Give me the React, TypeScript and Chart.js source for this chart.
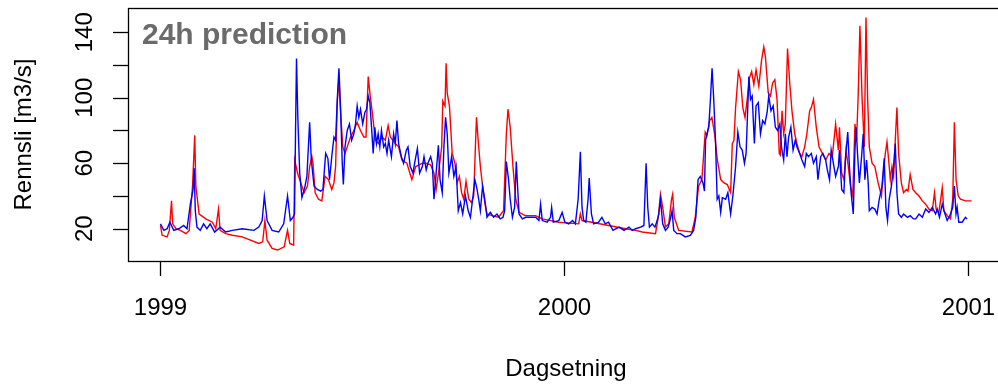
import React, { useEffect, useRef } from "react";
import { Chart, registerables } from "chart.js";

Chart.register(...registerables);

// Days counted from 1999-01-01, discharge in m3/s
const observed: [number, number][] = [
  [0, 22], [1.5, 16], [6, 15], [8, 19], [10, 37], [11, 23], [14, 20], [18, 19], [23, 17], [26, 19],
  [29, 46], [31, 77], [32, 46], [35, 29], [41, 26], [47, 24], [50, 20], [52.5, 32], [54, 19], [59, 17],
  [65, 16], [74, 15], [89, 11], [92.5, 12], [94.5, 25], [96.5, 13], [101, 8], [106, 7], [112, 9], [114, 16],
  [115, 19], [117, 11], [120.5, 10], [121.5, 62], [124, 54], [127, 48], [130, 42], [133, 46], [135, 58], [137, 64],
  [138, 60], [140, 42], [143, 38], [146, 37], [149, 52], [152, 50], [155, 44], [157, 48], [158.5, 58],
  [160, 97], [161.5, 112], [163, 91], [165, 70], [167, 66], [169, 70], [172, 76], [175, 80], [178, 85], [181, 80],
  [184, 76], [186, 76], [188, 113], [189.5, 103], [191.5, 92], [194.5, 74], [197.5, 72], [200.5, 76], [203.5, 74],
  [206, 83], [208, 76], [212.5, 72], [215.5, 70], [218.5, 62], [223, 60], [227.5, 50], [231, 58], [237, 60],
  [240, 60], [244.5, 59],
  [247.5, 54], [249.5, 44], [252, 56], [254.5, 70], [255.5, 98], [257.5, 95], [258.5, 121], [259.5, 103], [261.5, 95],
  [264, 66], [266.5, 60], [268.5, 48], [270.5, 52], [272.5, 42], [274.5, 38], [276.5, 49], [279, 38], [281.5, 36],
  [283.5, 40], [285, 70], [286, 88], [287.5, 74], [289.5, 58], [291.5, 46], [293.5, 36], [295.5, 29], [300, 28],
  [306, 27], [310.5, 31], [313, 78], [314.5, 93], [316.5, 82], [319, 58], [321.5, 38], [324.5, 30], [330, 28], [339.5, 28],
  [345.5, 26], [360.5, 24], [378.5, 23], [380, 29], [381.5, 25], [390.5, 24], [405.5, 22], [421, 20], [430, 19],
  [436, 18], [448, 17], [450.5, 27], [452.5, 41], [454.5, 33], [457, 21], [460, 23], [462.5, 38], [463.5, 41],
  [465, 27], [469, 19], [481, 18], [484, 27], [487, 46], [490, 50], [493, 79], [494.5, 77], [497, 86], [499, 88],
  [501.5, 78], [504, 62], [507, 50], [510, 48], [513, 47], [516, 42], [517.5, 72], [519, 74], [520.5, 94],
  [523, 116], [525, 111], [527, 94], [529, 88], [531, 99], [533, 112], [535, 116], [537, 108], [539, 117], [541.5, 107],
  [544, 123], [546, 131], [547.5, 125], [550, 103], [552, 101], [554, 109], [556, 111], [558, 99], [560, 66], [561, 65],
  [562.5, 92], [564, 78], [565.5, 84], [567.5, 130], [569.5, 109], [571.5, 92], [574, 78], [576, 72], [578.5, 66],
  [580.5, 64], [583, 70], [585, 78], [587.5, 92], [589, 94], [591, 99], [593.5, 82], [596, 70], [599, 66], [602, 62],
  [605, 66], [608, 64], [611, 84],
  [613.5, 68], [614.5, 82], [616.5, 54], [618.5, 50], [620.5, 68], [622.5, 58], [624.5, 46], [626.5, 40], [628.5, 84],
  [630, 74], [631.5, 103], [633, 144], [635, 99], [637, 70], [638.5, 149], [640, 99], [641.5, 70], [644, 60],
  [646.5, 58], [649.5, 48], [652.5, 40], [654.5, 56], [656, 66], [657.5, 73], [659, 62], [660.5, 50], [662, 58],
  [663.5, 52], [665, 74], [666.5, 94], [668, 66], [670.5, 48], [672.5, 42], [675, 44], [676.5, 43], [678.5, 53], [681, 44],
  [683.5, 42], [686.5, 40], [689.5, 37], [692.5, 35], [695.5, 32], [698.5, 31], [700.5, 42], [702, 32], [704.5, 30],
  [707.5, 45], [709, 31], [712, 28], [715, 26], [717, 38], [718.5, 85], [720, 50], [722, 40], [724, 38], [728.5, 37], [734, 37],
];

const predicted: [number, number][] = [
  [0, 23], [3, 19], [6, 20], [8.5, 24], [12, 19], [16.5, 20], [21, 22], [24, 20], [27, 35], [29.5, 44],
  [30.5, 57], [31.5, 31], [33, 21], [36, 19], [39, 23], [42, 20], [45, 23], [49, 18], [54, 21], [59, 18],
  [65, 19], [74, 20], [84.5, 19], [89, 21], [92, 25], [94, 40], [96.5, 25], [101, 19], [107, 18], [111.5, 23],
  [115, 40], [117.5, 25], [120, 27], [121.3, 29], [122.2, 78], [123.1, 124], [124.3, 88], [126, 54], [128, 39],
  [130.5, 45], [132.5, 52], [135, 85], [136.5, 62], [139, 46], [142, 44], [145, 43], [147, 44], [149.5, 66],
  [151.5, 63], [153, 50], [155, 64], [157, 76], [158.5, 74],
  [160, 99], [161.5, 118], [163, 93], [164.5, 60], [165.5, 47], [167, 70], [169, 80], [171, 84], [173, 74], [175, 78],
  [176.5, 84], [178, 95], [179.5, 88], [181, 93], [183, 84], [185, 91], [186.5, 93], [188, 101], [189.5, 97], [191, 82],
  [192.5, 66], [194, 82], [195.5, 72], [197, 78], [198.5, 70], [200, 80], [202, 70], [203.5, 72], [205, 66], [206.5, 74],
  [209, 64], [211, 78], [212.5, 72], [214, 86], [215.5, 72], [218, 64], [220, 60], [222.5, 68], [224, 70], [226, 58],
  [228.5, 54], [230, 60], [232.5, 69], [234.5, 54], [237, 58], [238.5, 64], [240.5, 56], [242, 60], [244.5, 64],
  [246, 60], [247.5, 38], [249, 50],
  [251.5, 71], [253, 50], [255, 42], [256.5, 70], [258, 88], [259.5, 78], [261, 54], [263.5, 64], [265.5, 52],
  [267.5, 58], [269.5, 31], [271.5, 36], [273.5, 29], [276, 40], [278.5, 31], [280.5, 27], [282.5, 38], [284.5, 50],
  [286.5, 44], [288, 38], [289.5, 31], [291.5, 46], [293.5, 38], [295.5, 27], [298.5, 30], [301.5, 27], [304.5, 29],
  [307.5, 26], [310, 27], [311.5, 31], [313, 61], [315, 50], [316.5, 38], [318.5, 27], [320.5, 33], [322, 61],
  [324.5, 29], [327.5, 26], [330.5, 27], [335, 27], [339.5, 27],
  [342.5, 25], [344, 35], [345.5, 25], [350, 24], [353, 27], [354, 33], [355.5, 24], [360.5, 25], [363.5, 30],
  [366, 24], [369.5, 23], [373, 25], [375.5, 23], [378, 38], [380, 67], [381.5, 33], [383, 25], [385, 24], [387, 38],
  [388, 51], [390, 29], [392, 23], [396.5, 24], [399.5, 27], [402.5, 23], [405.5, 24], [409.5, 19], [415, 21],
  [419.5, 19], [424, 21], [427, 19], [430, 20],
  [434.5, 21], [437.5, 22], [439.5, 60], [441, 33], [442.5, 21], [445, 23], [447.5, 21], [449.5, 25], [451, 29],
  [452.5, 38], [454.5, 23], [457, 19], [459.5, 21], [461.5, 26], [463, 31], [464.5, 19], [467.5, 17], [470.5, 17],
  [475, 15], [479.5, 16], [482.5, 19], [484.5, 27], [486.5, 50], [488.5, 52], [491, 48], [492.3, 43], [493.3, 74],
  [494.7, 78], [496.2, 82], [497.7, 99], [499.2, 118], [500.7, 99], [502.3, 74], [503.8, 38], [505.3, 40], [507, 30],
  [508.5, 39], [511.5, 38], [513.5, 42], [516, 29], [518, 40], [520.5, 58],
  [522.5, 79], [524.5, 70], [526.5, 68], [528.5, 60], [530, 66], [532.5, 113], [534, 99], [535.5, 101], [537.5, 72],
  [539, 95], [541, 97], [543, 78], [545, 86], [547, 84], [549, 91], [550.5, 101], [552.5, 92], [554.5, 95], [556.5, 82],
  [558.5, 80], [560.5, 84], [562, 70], [564, 62], [565.5, 78], [567, 64], [568.5, 76], [570.5, 82], [572.5, 68],
  [574.5, 74], [576, 70], [578.5, 66], [580.5, 62], [583, 58], [584.5, 66], [586.5, 64], [589, 66], [591, 60],
  [593.5, 64], [595, 50], [597.5, 64], [599.5, 66], [602, 62], [603.5, 56], [605.5, 50], [607, 68], [609.5, 58], [611, 52],
  [613.5, 58], [614.5, 68], [616.5, 44], [618.5, 42], [620, 64], [622, 79], [623.5, 58], [625, 42], [627, 29],
  [628.5, 68], [629.5, 82], [631, 64], [632.5, 48], [634.5, 64], [636, 78], [637.5, 50], [639, 62], [640.5, 48],
  [641.5, 31], [644, 33], [646.5, 32], [648.5, 29], [650.5, 38], [653, 46], [655, 63], [656.5, 33], [658, 25],
  [659.5, 38], [661.5, 46], [663.5, 58], [665, 72], [666.5, 42], [668, 29], [670.5, 27], [672.5, 29], [676, 27],
  [678.5, 28], [681.5, 26],
  [683.5, 26], [686.5, 29], [689.5, 27], [692.5, 32], [695.5, 30], [698.5, 33], [701.5, 29], [703, 32], [705, 27],
  [707.5, 35], [709.5, 30], [712, 25], [715, 29], [717, 33], [718.5, 46], [720, 29], [721, 33], [722.5, 24],
  [725.5, 24], [728.5, 27], [730, 26],
];

const yearTickDays = [0, 365, 731];
const yearTickLabels = ["1999", "2000", "2001"];
const yTickValues = [20, 40, 60, 80, 100, 120, 140];
const yLabelValues = [20, 60, 100, 140];

const FONT = '"Liberation Sans", Arial, Helvetica, sans-serif';
const W = 1010;
const H = 385;

const rAxesPlugin = {
  id: "rAxes",
  afterDraw(chart: any) {
    const { ctx, chartArea: a, scales } = chart;
    const xs = scales.x;
    const ys = scales.y;
    ctx.save();
    ctx.strokeStyle = "#000";
    ctx.lineWidth = 1.3;
    ctx.strokeRect(a.left + 0.5, a.top + 0.5, a.right - a.left, a.bottom - a.top);

    // x ticks + labels
    ctx.fillStyle = "#000";
    ctx.font = `24px ${FONT}`;
    ctx.textAlign = "center";
    ctx.textBaseline = "alphabetic";
    yearTickDays.forEach((d, i) => {
      const px = Math.round(xs.getPixelForValue(d)) + 0.5;
      ctx.beginPath();
      ctx.moveTo(px, a.bottom);
      ctx.lineTo(px, a.bottom + 15);
      ctx.stroke();
      ctx.fillText(yearTickLabels[i], px, 315);
    });

    // y ticks
    yTickValues.forEach((v) => {
      const py = Math.round(ys.getPixelForValue(v)) + 0.5;
      ctx.beginPath();
      ctx.moveTo(a.left, py);
      ctx.lineTo(a.left - 15, py);
      ctx.stroke();
    });
    yLabelValues.forEach((v) => {
      const py = ys.getPixelForValue(v);
      ctx.save();
      ctx.translate(92, py);
      ctx.rotate(-Math.PI / 2);
      ctx.fillText(String(v), 0, 0);
      ctx.restore();
    });

    // axis titles
    ctx.fillText("Dagsetning", (a.left + a.right) / 2, 376);
    ctx.save();
    ctx.translate(31, (a.top + a.bottom) / 2);
    ctx.rotate(-Math.PI / 2);
    ctx.fillText("Rennsli [m3/s]", 0, 0);
    ctx.restore();

    // panel title
    ctx.font = `bold 30px ${FONT}`;
    ctx.fillStyle = "#6b6b6b";
    ctx.textAlign = "left";
    ctx.fillText("24h prediction", 142, 44);
    ctx.restore();
  },
};

export default function App() {
  const ref = useRef<HTMLCanvasElement | null>(null);

  useEffect(() => {
    if (!ref.current) return;
    const chart = new Chart(ref.current, {
      type: "line",
      data: {
        datasets: [
          {
            label: "Predicted",
            data: predicted.map(([x, y]) => ({ x, y })),
            borderColor: "#0000ff",
            borderWidth: 1.4,
            pointRadius: 0,
            tension: 0,
            fill: false,
          },
          {
            label: "Observed",
            data: observed.map(([x, y]) => ({ x, y })),
            borderColor: "#ff0000",
            borderWidth: 1.4,
            pointRadius: 0,
            tension: 0,
            fill: false,
          },
        ],
      },
      options: {
        animation: false,
        responsive: false,
        devicePixelRatio: 1,
        layout: { padding: { left: 128, top: 8, right: W - 1004, bottom: H - 261 } },
        plugins: { legend: { display: false }, tooltip: { enabled: false }, title: { display: false } },
        scales: {
          x: { type: "linear", min: -29.4, max: 763.4, display: false },
          y: { type: "linear", min: 0.3, max: 154.8, display: false },
        },
        events: [],
      },
      plugins: [rAxesPlugin],
    });
    return () => chart.destroy();
  }, []);

  return (
    <div style={{ position: "fixed", left: 0, top: 0, width: 998, height: 385, overflow: "hidden", background: "#fff" }}>
      <canvas ref={ref} width={W} height={H} style={{ width: W, height: H, display: "block" }} />
    </div>
  );
}
